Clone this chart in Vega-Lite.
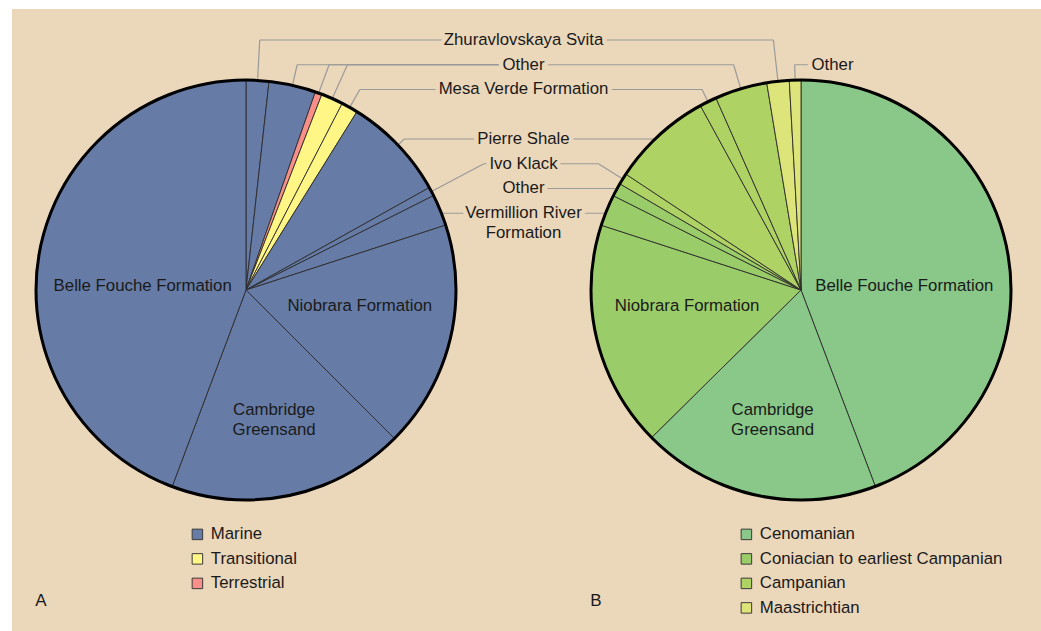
{
  "$schema": "https://vega.github.io/schema/vega-lite/v6.json",
  "width": 1029,
  "height": 622,
  "autosize": {"type": "none"},
  "padding": {"left": 12, "top": 9, "right": 0, "bottom": 0},
  "background": "#ffffff",
  "config": {
    "view": {"fill": "#ebd7ba", "stroke": null},
    "axis": {"disable": true},
    "font": "Liberation Sans"
  },
  "datasets": {
    "slices": [
      {"pie": "A", "ord": 1, "name": "Zhuravlovskaya Svita", "group": "Marine", "value": 1.75, "lid": "zh"},
      {"pie": "A", "ord": 2, "name": "Other", "group": "Marine", "value": 3.61, "lid": "o1"},
      {"pie": "A", "ord": 3, "name": "Other", "group": "Terrestrial", "value": 0.53, "lid": "o1"},
      {"pie": "A", "ord": 4, "name": "Other", "group": "Transitional", "value": 1.69, "lid": "o1"},
      {"pie": "A", "ord": 5, "name": "Mesa Verde Formation", "group": "Transitional", "value": 1.28, "lid": "mv"},
      {"pie": "A", "ord": 6, "name": "Pierre Shale", "group": "Marine", "value": 8.03, "lid": "ps"},
      {"pie": "A", "ord": 7, "name": "Ivo Klack", "group": "Marine", "value": 0.69, "lid": "ik"},
      {"pie": "A", "ord": 8, "name": "Vermillion River Formation", "group": "Marine", "value": 2.42, "lid": "vr"},
      {"pie": "A", "ord": 9, "name": "Niobrara Formation", "group": "Marine", "value": 17.5, "lid": null},
      {"pie": "A", "ord": 10, "name": "Cambridge Greensand", "group": "Marine", "value": 18.22, "lid": null},
      {"pie": "A", "ord": 11, "name": "Belle Fouche Formation", "group": "Marine", "value": 44.28, "lid": null},
      {"pie": "B", "ord": 1, "name": "Belle Fouche Formation", "group": "Cenomanian", "value": 44.24, "lid": null},
      {"pie": "B", "ord": 2, "name": "Cambridge Greensand", "group": "Cenomanian", "value": 18.36, "lid": null},
      {"pie": "B", "ord": 3, "name": "Niobrara Formation", "group": "Coniacian to earliest Campanian", "value": 17.39, "lid": null},
      {"pie": "B", "ord": 4, "name": "Vermillion River Formation", "group": "Coniacian to earliest Campanian", "value": 2.42, "lid": "vr"},
      {"pie": "B", "ord": 5, "name": "Other", "group": "Coniacian to earliest Campanian", "value": 1.03, "lid": "o6"},
      {"pie": "B", "ord": 6, "name": "Ivo Klack", "group": "Campanian", "value": 0.86, "lid": "ik"},
      {"pie": "B", "ord": 7, "name": "Pierre Shale", "group": "Campanian", "value": 7.75, "lid": "ps"},
      {"pie": "B", "ord": 8, "name": "Mesa Verde Formation", "group": "Campanian", "value": 1.31, "lid": "mv"},
      {"pie": "B", "ord": 9, "name": "Other", "group": "Campanian", "value": 4.03, "lid": "o1"},
      {"pie": "B", "ord": 10, "name": "Zhuravlovskaya Svita", "group": "Maastrichtian", "value": 1.72, "lid": "zh"},
      {"pie": "B", "ord": 11, "name": "Other", "group": "Maastrichtian", "value": 0.89, "lid": "ob"}
    ],
    "labels": [
      {"lid": "zh", "text": "Zhuravlovskaya Svita", "slot": 0, "col": "mid"},
      {"lid": "o1", "text": "Other", "slot": 1, "col": "mid"},
      {"lid": "mv", "text": "Mesa Verde Formation", "slot": 2, "col": "mid"},
      {"lid": "ps", "text": "Pierre Shale", "slot": 4, "col": "mid"},
      {"lid": "ik", "text": "Ivo Klack", "slot": 5, "col": "mid"},
      {"lid": "o6", "text": "Other", "slot": 6, "col": "mid"},
      {"lid": "vr", "text": "Vermillion River\nFormation", "slot": 7, "col": "mid"},
      {"lid": "ob", "text": "Other", "slot": 1, "col": "B"}
    ],
    "panels": [{"panel": "A"}, {"panel": "B"}]
  },
  "resolve": {"scale": {"color": "independent", "theta": "independent"}},
  "layer": [
    {
      "data": {"name": "slices"},
      "transform": [{"filter": "datum.pie == 'A'"}],
      "mark": {"type": "arc", "radius": 210, "stroke": "#2b2b2b", "strokeWidth": 0.9},
      "encoding": {
        "x": {"datum": 0, "type": "quantitative", "scale": {"domain": [-1.114286, 3.785714], "nice": false, "zero": false}, "axis": null},
        "y": {"datum": 0, "type": "quantitative", "scale": {"domain": [-1.62381, 1.338095], "nice": false, "zero": false}, "axis": null},
        "theta": {"field": "value", "type": "quantitative", "stack": true},
        "order": {"field": "ord", "type": "quantitative"},
        "color": {
          "field": "group", "type": "nominal",
          "scale": {"domain": ["Marine", "Transitional", "Terrestrial"], "range": ["#667ca6", "#fff685", "#f98f89"]},
          "legend": {"orient": "none", "legendX": 177, "legendY": 517, "title": null, "symbolType": "square", "symbolSize": 110, "symbolStrokeColor": "#3a3a3a", "symbolStrokeWidth": 1, "symbolOpacity": 1, "labelFontSize": 16.8, "labelFont": "Liberation Sans", "labelColor": "#1a1a1a", "rowPadding": 6.5, "labelOffset": 5, "padding": 0, "labelLimit": 400}
        }
      }
    },
    {
      "data": {"name": "slices"},
      "transform": [{"filter": "datum.pie == 'B'"}],
      "mark": {"type": "arc", "radius": 210, "stroke": "#2b2b2b", "strokeWidth": 0.9},
      "encoding": {
        "x": {"datum": 2.642857, "type": "quantitative"},
        "y": {"datum": 0, "type": "quantitative"},
        "theta": {"field": "value", "type": "quantitative", "stack": true},
        "order": {"field": "ord", "type": "quantitative"},
        "color": {
          "field": "group", "type": "nominal",
          "scale": {"domain": ["Cenomanian", "Coniacian to earliest Campanian", "Campanian", "Maastrichtian"], "range": ["#89c889", "#9bcc6a", "#aed264", "#dde57a"]},
          "legend": {"orient": "none", "legendX": 726, "legendY": 517, "title": null, "symbolType": "square", "symbolSize": 110, "symbolStrokeColor": "#3a3a3a", "symbolStrokeWidth": 1, "symbolOpacity": 1, "labelFontSize": 16.8, "labelFont": "Liberation Sans", "labelColor": "#1a1a1a", "rowPadding": 6.5, "labelOffset": 5, "padding": 0, "labelLimit": 400}
        }
      }
    },
    {
      "data": {"name": "slices"},
      "transform": [
        {"window": [{"op": "sum", "field": "value", "as": "cum"}], "sort": [{"field": "ord"}], "groupby": ["pie"], "frame": [null, 0]},
        {"joinaggregate": [{"op": "sum", "field": "value", "as": "tot"}], "groupby": ["pie"]},
        {"filter": "datum.lid != null"},
        {"lookup": "lid", "from": {"data": {"name": "labels"}, "key": "lid", "fields": ["slot", "col"]}},
        {"calculate": "2*PI*(datum.cum - datum.value/2)/datum.tot", "as": "th"},
        {"calculate": "datum.pie == 'A' ? 0 : 2.642857", "as": "cx"},
        {"calculate": "1.190476 - 0.117857*datum.slot", "as": "ly"},
        {"calculate": "datum.col == 'mid' ? 1.321429 : 2.792857", "as": "lx"},
        {"calculate": "datum.ly / cos(datum.th)", "as": "rr"},
        {"calculate": "datum.rr >= 1 ? datum.cx + sin(datum.th) : datum.cx + (sin(datum.th) < 0 ? -1 : 1) * sqrt(1 - datum.ly*datum.ly)", "as": "ex"},
        {"calculate": "datum.rr >= 1 ? cos(datum.th) : datum.ly", "as": "ey"},
        {"calculate": "datum.rr >= 1 ? datum.cx + datum.rr*sin(datum.th) : datum.ex", "as": "bx"}
      ],
      "layer": [
        {
          "mark": {"type": "rule", "stroke": "#9a9a9a", "strokeWidth": 1.2},
          "encoding": {
            "x": {"field": "ex", "type": "quantitative"},
            "y": {"field": "ey", "type": "quantitative"},
            "x2": {"field": "bx"},
            "y2": {"field": "ly"}
          }
        },
        {
          "mark": {"type": "rule", "stroke": "#9a9a9a", "strokeWidth": 1.2},
          "encoding": {
            "x": {"field": "bx", "type": "quantitative"},
            "y": {"field": "ly", "type": "quantitative"},
            "x2": {"field": "lx"},
            "y2": {"field": "ly"}
          }
        }
      ]
    },
    {
      "data": {"name": "slices"},
      "transform": [
        {"aggregate": [{"op": "sum", "field": "value", "as": "total"}], "groupby": ["pie"]},
        {"calculate": "datum.pie == 'A' ? 0 : 2.642857", "as": "cx"}
      ],
      "mark": {"type": "arc", "radius": 210, "filled": false, "stroke": "#000000", "strokeWidth": 3},
      "encoding": {
        "x": {"field": "cx", "type": "quantitative"},
        "y": {"datum": 0, "type": "quantitative"},
        "theta": {"field": "total", "type": "quantitative", "stack": null}
      }
    },
    {
      "data": {"name": "labels"},
      "transform": [
        {"calculate": "1.190476 - 0.117857*datum.slot", "as": "ty"},
        {"calculate": "datum.col == 'mid' ? 1.321429 : 2.792857", "as": "tx"}
      ],
      "encoding": {
        "x": {"field": "tx", "type": "quantitative"},
        "y": {"field": "ty", "type": "quantitative"},
        "text": {"field": "text", "type": "nominal"}
      },
      "layer": [
        {"mark": {"type": "text", "fontSize": 16.8, "align": "center", "baseline": "top", "dy": -8, "lineBreak": "\n", "lineHeight": 20, "fill": "#ebd7ba", "stroke": "#ebd7ba", "strokeWidth": 9, "strokeJoin": "round"}},
        {"mark": {"type": "text", "fontSize": 16.8, "align": "center", "baseline": "top", "dy": -8, "lineBreak": "\n", "lineHeight": 20, "fill": "#1a1a1a"}}
      ]
    },
    {
      "data": {"name": "slices"},
      "transform": [{"filter": "datum.pie == 'A'"}],
      "encoding": {
        "x": {"datum": 0, "type": "quantitative"},
        "y": {"datum": 0, "type": "quantitative"},
        "theta": {"field": "value", "type": "quantitative", "stack": true},
        "order": {"field": "ord", "type": "quantitative"}
      },
      "layer": [
        {"mark": {"type": "text", "radius": 105, "dy": 15, "fontSize": 16.8, "fill": "#1a1a1a", "align": "center", "baseline": "middle"},
         "encoding": {"text": {"condition": {"test": "datum.name == 'Belle Fouche Formation'", "field": "name", "type": "nominal"}, "value": ""}}},
        {"mark": {"type": "text", "radius": 117, "dy": -11, "fontSize": 16.8, "fill": "#1a1a1a", "align": "center", "baseline": "middle"},
         "encoding": {"text": {"condition": {"test": "datum.name == 'Niobrara Formation'", "field": "name", "type": "nominal"}, "value": ""}}},
        {"mark": {"type": "text", "radius": 133, "dy": -18, "fontSize": 16.8, "fill": "#1a1a1a", "align": "center", "baseline": "top", "lineBreak": " ", "lineHeight": 20},
         "encoding": {"text": {"condition": {"test": "datum.name == 'Cambridge Greensand'", "field": "name", "type": "nominal"}, "value": ""}}}
      ]
    },
    {
      "data": {"name": "slices"},
      "transform": [{"filter": "datum.pie == 'B'"}],
      "encoding": {
        "x": {"datum": 2.642857, "type": "quantitative"},
        "y": {"datum": 0, "type": "quantitative"},
        "theta": {"field": "value", "type": "quantitative", "stack": true},
        "order": {"field": "ord", "type": "quantitative"}
      },
      "layer": [
        {"mark": {"type": "text", "radius": 105, "dy": 15, "fontSize": 16.8, "fill": "#1a1a1a", "align": "center", "baseline": "middle"},
         "encoding": {"text": {"condition": {"test": "datum.name == 'Belle Fouche Formation'", "field": "name", "type": "nominal"}, "value": ""}}},
        {"mark": {"type": "text", "radius": 117, "dy": -11, "fontSize": 16.8, "fill": "#1a1a1a", "align": "center", "baseline": "middle"},
         "encoding": {"text": {"condition": {"test": "datum.name == 'Niobrara Formation'", "field": "name", "type": "nominal"}, "value": ""}}},
        {"mark": {"type": "text", "radius": 133, "dy": -18, "fontSize": 16.8, "fill": "#1a1a1a", "align": "center", "baseline": "top", "lineBreak": " ", "lineHeight": 20},
         "encoding": {"text": {"condition": {"test": "datum.name == 'Cambridge Greensand'", "field": "name", "type": "nominal"}, "value": ""}}}
      ]
    },
    {
      "data": {"name": "panels"},
      "transform": [
        {"calculate": "datum.panel == 'A' ? -0.97619 : 1.666667", "as": "tx"},
        {"calculate": "-1.480952", "as": "ty"}
      ],
      "mark": {"type": "text", "fontSize": 17, "fill": "#1a1a1a", "align": "center", "baseline": "middle"},
      "encoding": {
        "x": {"field": "tx", "type": "quantitative"},
        "y": {"field": "ty", "type": "quantitative"},
        "text": {"field": "panel", "type": "nominal"}
      }
    }
  ]
}
